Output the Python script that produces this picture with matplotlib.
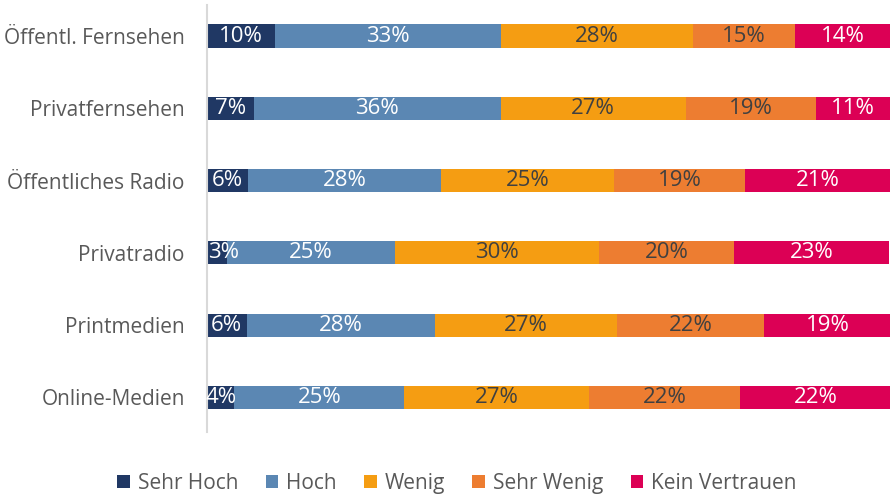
import numpy as np
import matplotlib.pyplot as plt

plt.rcParams['font.family'] = ['Open Sans', 'DejaVu Sans']

categories = ["Öffentl. Fernsehen", "Privatfernsehen", "Öffentliches Radio",
              "Privatradio", "Printmedien", "Online-Medien"]
series = ["Sehr Hoch", "Hoch", "Wenig", "Sehr Wenig", "Kein Vertrauen"]

sehr_hoch = [10.0, 6.9, 6.0, 2.9, 5.8, 4.0]
hoch = [33.0, 36.1, 28.3, 24.7, 27.6, 24.9]
wenig = [28.1, 27.1, 25.3, 29.8, 26.6, 27.1]
sehr_wenig = [15.0, 19.0, 19.2, 19.8, 21.6, 22.1]
kein_vertrauen = [13.9, 11.0, 21.2, 22.7, 18.6, 22.0]

colors = ["#203864", "#5B87B3", "#F59D12", "#ED7D31", "#DC0055"]
label_colors = ["white", "white", "#404040", "#404040", "white"]

data = [sehr_hoch, hoch, wenig, sehr_wenig, kein_vertrauen]

fig = plt.figure(figsize=(8.91, 4.96), dpi=100)
ax = fig.add_axes([0.2323, 0.129, 0.7666, 0.861])

y = np.arange(len(categories))
left = np.zeros(len(categories))
for vals, name, c, lc in zip(data, series, colors, label_colors):
    vals = np.array(vals)
    ax.barh(y, vals, left=left, height=0.32, color=c, label=name,
            edgecolor='none')
    for yi, l, v in zip(y, left, vals):
        # narrow segments: label starts at the segment's left edge
        if v < 3.5:
            ax.text(l + 0.15, yi, "{:.0f}%".format(v), ha='left', va='center',
                    color=lc, fontsize=16)
        else:
            ax.text(l + v / 2, yi, "{:.0f}%".format(v), ha='center',
                    va='center', color=lc, fontsize=16)
    left += vals

ax.set_xlim(0, 100)
ax.set_ylim(5.48, -0.43)
ax.set_yticks(y)
ax.set_yticklabels(categories, fontsize=15, color='#595959')
ax.tick_params(axis='y', length=0, pad=16)
ax.set_xticks([])
for s in ['top', 'right', 'bottom']:
    ax.spines[s].set_visible(False)
ax.spines['left'].set_color('#D9D9D9')
ax.spines['left'].set_linewidth(1.5)

fig.legend(loc='center', bbox_to_anchor=(0.513, 0.025), ncol=5,
           frameon=False, fontsize=15, handlelength=0.6, handleheight=0.6,
           handletextpad=0.4, columnspacing=1.3, labelcolor='#595959')

fig.savefig("out.png", dpi=100)
